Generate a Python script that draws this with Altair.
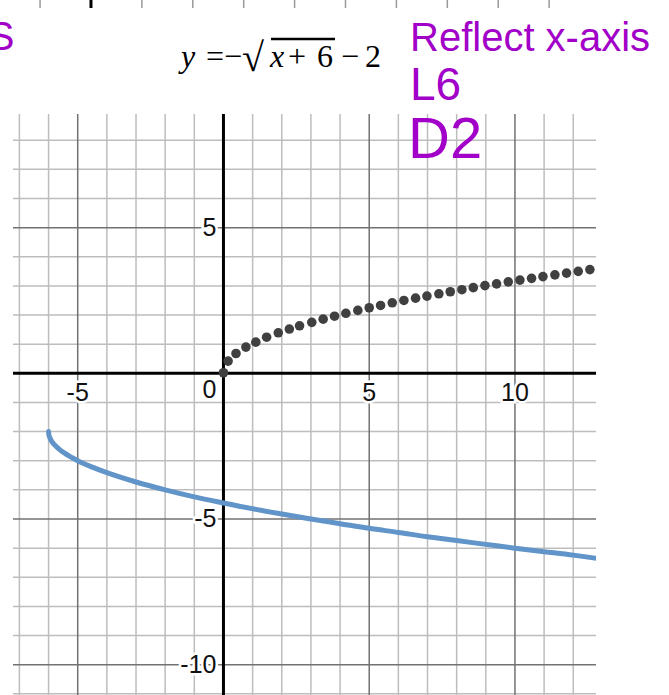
import altair as alt
import pandas as pd

# ---- plot window (graph units) ----
X_MIN, X_MAX = -7.22, 12.78
Y_MIN, Y_MAX = -11.04, 8.9

# page offsets of the plotting area
LEFT, TOP = 13, 114
W, H = 583, 581

# grid lines
grid_minor_x = [-7, -6, -4, -3, -2, -1, 1, 2, 3, 4, 6, 7, 8, 9, 11, 12]
grid_major_x = [-5, 5, 10]
grid_minor_y = [-11, -9, -8, -7, -6, -4, -3, -2, -1, 1, 2, 3, 4, 6, 7, 8]
grid_major_y = [-10, -5, 5]

# tick labels along the axes
x_tick_vals = [-5, 5, 10]
x_tick_text = ["-5", "5", "10"]
y_tick_vals = [5, -5, -10]
y_tick_text = ["5", "-5", "-10"]

# blue curve  y = -sqrt(x + 6) - 2
curve_x = [-6, -5.99, -5.96, -5.9, -5.8, -5.65, -5.45, -5.2, -5.0, -4.5, -4, -3, -2, -1,
           0, 1, 2, 3, 4, 5, 6, 7, 8, 9, 10, 11, 12, 12.8]
curve_y = [-2.00, -2.10, -2.20, -2.32, -2.45, -2.59, -2.74, -2.89, -3.00, -3.22, -3.41,
           -3.73, -4.00, -4.24, -4.45, -4.65, -4.83, -5.00, -5.16, -5.32, -5.46, -5.61,
           -5.74, -5.87, -6.00, -6.12, -6.24, -6.35]

# dotted parent curve  y = sqrt(x)
dot_x = [0.00, 0.16, 0.43, 0.77, 1.11, 1.48, 1.88, 2.26, 2.61, 3.03, 3.42, 3.81, 4.20,
         4.61, 5.00, 5.39, 5.79, 6.19, 6.59, 6.98, 7.39, 7.78, 8.18, 8.57, 8.97, 9.37,
         9.77, 10.17, 10.57, 10.96, 11.37, 11.77, 12.17, 12.57]
dot_y = [0.02, 0.42, 0.68, 0.90, 1.07, 1.24, 1.39, 1.52, 1.63, 1.75, 1.86, 1.96, 2.06,
         2.16, 2.25, 2.33, 2.42, 2.50, 2.58, 2.65, 2.73, 2.80, 2.87, 2.94, 3.01, 3.07,
         3.14, 3.20, 3.26, 3.32, 3.38, 3.44, 3.50, 3.56]

# partial grid of the graph above (only its tick ends show)
upper_ticks = list(range(-1, 10))

xs = alt.Scale(domain=[X_MIN, X_MAX], nice=False, zero=False)
ys = alt.Scale(domain=[Y_MIN, Y_MAX], nice=False, zero=False)

LABEL_FONT = "Liberation Sans"
HAND_FONT = "Liberation Sans"
PURPLE = "#a200c8"
LABEL_SIZE = 25


def vrules(vals, color, width):
    return alt.Chart(pd.DataFrame({"x": vals})).mark_rule(color=color, strokeWidth=width).encode(
        x=alt.X("x:Q", scale=xs, axis=None))


def hrules(vals, color, width):
    return alt.Chart(pd.DataFrame({"y": vals})).mark_rule(color=color, strokeWidth=width).encode(
        y=alt.Y("y:Q", scale=ys, axis=None))


minor = vrules(grid_minor_x, "#bdbdbd", 1.5) + hrules(grid_minor_y, "#bdbdbd", 1.5)
major = vrules(grid_major_x, "#727272", 1.5) + hrules(grid_major_y, "#727272", 1.5)
axes = vrules([0], "#000000", 3) + hrules([0], "#000000", 3)

curve = alt.Chart(pd.DataFrame({"x": curve_x, "y": curve_y})).mark_line(
    color="#6194c9", strokeWidth=5, strokeCap="round", interpolate="monotone", clip=True
).encode(x=alt.X("x:Q", scale=xs, axis=None), y=alt.Y("y:Q", scale=ys, axis=None))

dots = alt.Chart(pd.DataFrame({"x": dot_x, "y": dot_y})).mark_circle(
    color="#404040", opacity=1, size=92, clip=True
).encode(x=alt.X("x:Q", scale=xs, axis=None), y=alt.Y("y:Q", scale=ys, axis=None))


def labels(df, **kw):
    enc = dict(x=alt.X("x:Q", scale=xs, axis=None), y=alt.Y("y:Q", scale=ys, axis=None),
               text="t:N")
    halo = alt.Chart(df).mark_text(font=LABEL_FONT, fontSize=LABEL_SIZE, color="white",
                                   stroke="white", strokeWidth=5, **kw).encode(**enc)
    txt = alt.Chart(df).mark_text(font=LABEL_FONT, fontSize=LABEL_SIZE, color="#111111",
                                  **kw).encode(**enc)
    return halo + txt


x_lab = labels(pd.DataFrame({"x": x_tick_vals, "y": [0] * 3, "t": x_tick_text}),
               align="center", baseline="alphabetic", dy=28)
y_lab = labels(pd.DataFrame({"x": [0] * 3, "y": y_tick_vals, "t": y_tick_text}),
               align="right", baseline="middle", dx=-7)
o_lab = labels(pd.DataFrame({"x": [0], "y": [0], "t": ["0"]}),
               align="right", baseline="alphabetic", dx=-7, dy=25)

# tick ends of the graph above
up_scale = alt.Scale(domain=[-1.532, 9.921], nice=False, zero=False)
up_df = pd.DataFrame({"u": upper_ticks})
up_gray = alt.Chart(up_df).transform_filter("datum.u != 0").mark_rule(
    color="#9a9a9a", strokeWidth=1.5).encode(
    x=alt.X("u:Q", scale=up_scale, axis=None), y=alt.value(-TOP), y2=alt.value(-TOP + 8))
up_axis = alt.Chart(up_df).transform_filter("datum.u == 0").mark_rule(
    color="#000000", strokeWidth=3).encode(
    x=alt.X("u:Q", scale=up_scale, axis=None), y=alt.value(-TOP), y2=alt.value(-TOP + 8))

one = alt.Data(values=[{}])


def note(text, px, py, size, color="#000000", font="Liberation Serif", style="normal",
         align="left"):
    return alt.Chart(one).mark_text(
        text=text, font=font, fontSize=size, fontStyle=style, color=color,
        align=align, baseline="alphabetic"
    ).encode(x=alt.value(px - LEFT), y=alt.value(py - TOP))


# equation heading
EQ_BASE = 67
EQ_SIZE = 32
equation = (
    note("y", 181, EQ_BASE, EQ_SIZE, style="italic")
    + note("=−", 206, EQ_BASE, EQ_SIZE)
    + note("√", 242, EQ_BASE + 4, 40)
    + note("x", 270, EQ_BASE, EQ_SIZE, style="italic")
    + note("+", 288, EQ_BASE, EQ_SIZE)
    + note("6", 317, EQ_BASE, EQ_SIZE)
    + note("−", 341, EQ_BASE, EQ_SIZE)
    + note("2", 365, EQ_BASE, EQ_SIZE)
)
overline = alt.Chart(one).mark_rule(color="#000000", strokeWidth=2.5).encode(
    x=alt.value(271 - LEFT), x2=alt.value(335 - LEFT), y=alt.value(39 - TOP))

# handwritten notes
hand = (
    note("Reflect x-axis", 410, 51, 40, color=PURPLE, font=HAND_FONT)
    + note("L6", 410, 100, 46, color=PURPLE, font=HAND_FONT)
    + note("D2", 408, 158, 58, color=PURPLE, font=HAND_FONT)
    + note("S", 1, 50, 40, color=PURPLE, font=HAND_FONT, align="center")
)

chart = alt.layer(
    minor, major, axes, curve, dots, x_lab, y_lab, o_lab,
    up_gray, up_axis, equation, overline, hand
).resolve_scale(x="independent").properties(
    width=W, height=H,
    padding={"left": LEFT, "top": TOP, "right": 669 - LEFT - W, "bottom": 695 - TOP - H},
    autosize=alt.AutoSizeParams(type="none"),
    background="white",
).configure_view(stroke=None)

chart.save("out.html", embed_options={"renderer": "svg", "actions": False})
